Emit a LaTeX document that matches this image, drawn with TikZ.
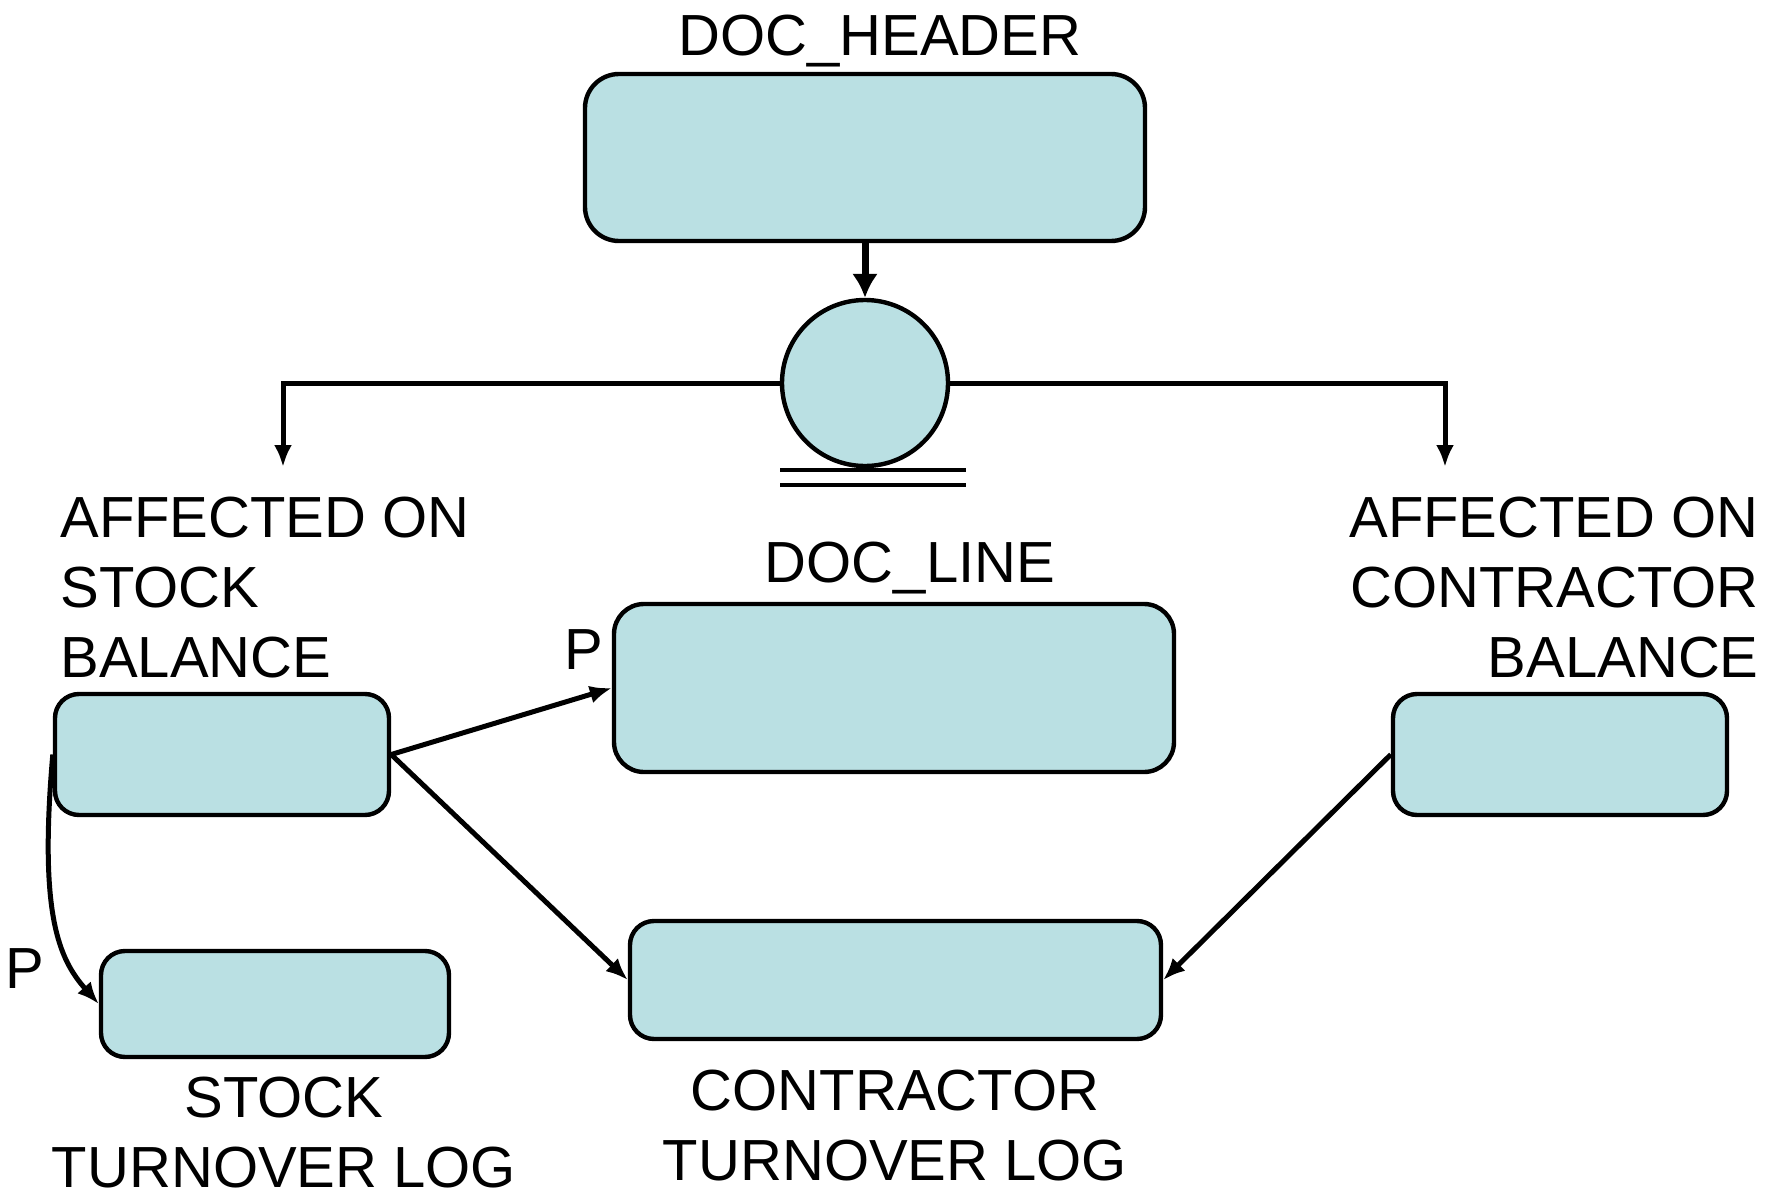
\documentclass[tikz,border=0pt]{standalone}
\usepackage{fontspec}
\setmainfont{Liberation Sans}
\usetikzlibrary{
    arrows.meta,
    calc,
    positioning
}
\definecolor{entityfill}{RGB}{186,224,227}
\tikzset{
    entity/.style={draw, line width=2.2pt, fill=entityfill, rounded corners=12pt, inner sep=0pt},
    label text/.style={font=\fontsize{29}{35}\selectfont, inner sep=0pt},
    link/.style={line width=2.5pt, -{Latex[length=11pt, width=9pt]}},
    biglink/.style={line width=3.5pt, -{Latex[length=12pt, width=13pt]}}
}
\begin{document}
\begin{tikzpicture}[x=0.5pt, y=-0.5pt]
    \useasboundingbox (0, 0) rectangle (1779, 1199);
    % entities
    \node[entity, rounded corners=17pt, minimum width=280pt, minimum height=83.5pt] (header) at (865, 157.5) {};
    \node[draw, circle, line width=2.2pt, fill=entityfill, minimum size=83pt, inner sep=0pt] (split) at (865, 383) {};
    \node[entity, rounded corners=15pt, minimum width=280pt, minimum height=84pt] (line) at (894, 688) {};
    \node[entity, minimum width=167pt, minimum height=60.5pt] (stockbal) at (222, 754.5) {};
    \node[entity, minimum width=167pt, minimum height=60.5pt] (contrbal) at (1560, 754.5) {};
    \node[entity, minimum width=174pt, minimum height=53pt] (stocklog) at (275, 1004) {};
    \node[entity, minimum width=265.5pt, minimum height=59pt] (contrlog) at (895.5, 980) {};
    % texts (base = last line)
    \node[label text, anchor=base] (headertxt) at (880, 55) {DOC\_HEADER};
    \node[label text, anchor=base] (linetxt) at (910, 582) {DOC\_LINE};
    \node[label text, anchor=base] (plinetxt) at (584, 669) {P};
    \node[label text, anchor=base] (plogtxt) at (25, 988) {P};
    \node[label text, anchor=base west, align=left] (stockbaltxt) at (60, 677) {AFFECTED ON\\STOCK\\BALANCE};
    \node[label text, anchor=base east, align=right] (contrbaltxt) at (1759, 677) {AFFECTED ON\\CONTRACTOR\\BALANCE};
    \node[label text, anchor=base, align=center] (stocklogtxt) at (284, 1187) {STOCK\\TURNOVER LOG};
    \node[label text, anchor=base, align=center] (contrlogtxt) at (895, 1180) {CONTRACTOR\\TURNOVER LOG};
    % branch ends
    \coordinate (leftend) at (283, 467);
    \coordinate (rightend) at (1445, 467);
    % connectors
    \draw[biglink] (header.south) -- (split.north);
    \draw[link] (split.west) -| (leftend);
    \draw[link] (split.east) -| (rightend);
    \draw[line width=2.2pt] ([xshift=-42.5pt, yshift=-1pt]split.south) -- ([xshift=50.5pt, yshift=-1pt]split.south);
    \draw[line width=2.2pt] ([xshift=-42.5pt, yshift=-8.5pt]split.south) -- ([xshift=50.5pt, yshift=-8.5pt]split.south);
    \draw[link] (stockbal.east) -- (line.west);
    \draw[link] (stockbal.east) -- (contrlog.west);
    \draw[link] (contrbal.west) -- (contrlog.east);
    \draw[link] (stockbal.west) .. controls +(-14, 160) and +(-40, -45) .. (stocklog.west);
\end{tikzpicture}
\end{document}
